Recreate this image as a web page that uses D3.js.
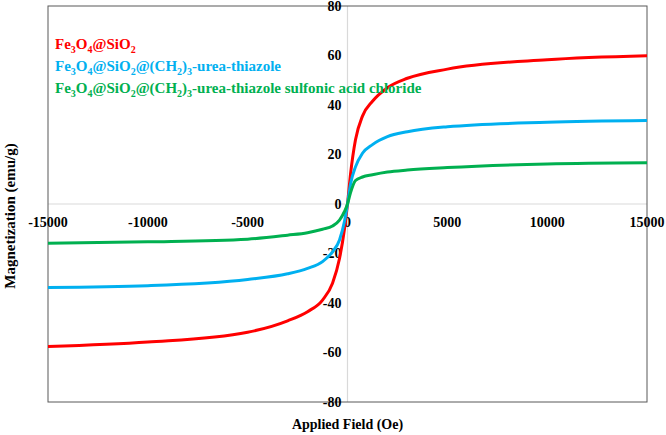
<!DOCTYPE html>
<meta charset="utf-8">
<head>
  <script src="https://d3js.org/d3.v7.min.js"></script>
  <style>
    body { margin: 0; background: #fff; }
  </style>
</head>
<div id="my_dataviz"></div>
<script>
  // data
  var field = [-15000, -10000, -5000, -3000, -2000, -1250, -750, -400, -150, 0,
    150, 400, 750, 1250, 2000, 3000, 5000, 10000, 15000];
  var magFe3O4SiO2 = [-57.6, -55.8, -51.8, -47.2, -43.5, -38.8, -32, -22, -10, 0,
    12, 26, 35.5, 41.5, 47, 50.8, 54.5, 58.3, 59.9];
  var magUreaThiazole = [-33.7, -33, -30.5, -28.2, -26, -23.3, -19.3, -14.5, -7, 0,
    8, 15, 20.5, 24, 27.2, 29.2, 31.2, 33, 33.7];
  var magSulfonicChloride = [-15.9, -15.3, -14.2, -12.6, -11.6, -10.2, -8.9, -6.5, -3, 0,
    4.5, 9.5, 10.9, 11.8, 12.9, 13.7, 14.7, 16.2, 16.7];
  var xTicks = [-15000, -10000, -5000, 0, 5000, 10000, 15000];
  var yTicks = [-80, -60, -40, -20, 0, 20, 40, 60, 80];

  var series = [
    { name: ["Fe", "3", "O", "4", "@SiO", "2"], values: magFe3O4SiO2, color: "#ff0000" },
    { name: ["Fe", "3", "O", "4", "@SiO", "2", "@(CH", "2", ")", "3", "-urea-thiazole"], values: magUreaThiazole, color: "#00b0f0" },
    { name: ["Fe", "3", "O", "4", "@SiO", "2", "@(CH", "2", ")", "3", "-urea-thiazole sulfonic acid chloride"], values: magSulfonicChloride, color: "#00b050" }
  ];

  var fontFam = "'Times New Roman', 'Liberation Serif', 'DejaVu Serif', serif";

  var margin = { top: 6, right: 19, bottom: 33, left: 48 },
    width = 666 - margin.left - margin.right,
    height = 435 - margin.top - margin.bottom;

  var svg = d3.select("#my_dataviz")
    .append("svg")
    .attr("width", 666)
    .attr("height", 435)
    .attr("font-family", fontFam)
    .attr("font-weight", "bold")
    .append("g")
    .attr("transform", "translate(" + margin.left + "," + margin.top + ")");

  var x = d3.scaleLinear().domain([-15000, 15000]).range([0, width]);
  var y = d3.scaleLinear().domain([-80, 80]).range([height, 0]);

  // zero lines
  svg.append("line")
    .attr("x1", 0).attr("x2", width)
    .attr("y1", y(0)).attr("y2", y(0))
    .attr("stroke", "#d9d9d9").attr("stroke-width", 1.2);
  svg.append("line")
    .attr("x1", x(0)).attr("x2", x(0))
    .attr("y1", 0).attr("y2", height)
    .attr("stroke", "#d9d9d9").attr("stroke-width", 1.2);

  // plot border
  svg.append("rect")
    .attr("width", width).attr("height", height)
    .attr("fill", "none")
    .attr("stroke", "#595959").attr("stroke-width", 1);

  // x tick labels under the zero line
  svg.selectAll(".xt")
    .data(xTicks)
    .enter().append("text")
    .attr("x", function (d) { return x(d); })
    .attr("y", y(0) + 23)
    .attr("text-anchor", "middle")
    .style("font-family", fontFam)
    .style("font-size", "14px")
    .text(function (d) { return d; });

  // y tick labels left of the zero line
  svg.selectAll(".yt")
    .data(yTicks)
    .enter().append("text")
    .attr("x", x(0) - 6)
    .attr("y", function (d) { return y(d); })
    .attr("dy", "0.35em")
    .attr("text-anchor", "end")
    .style("font-family", fontFam)
    .style("font-size", "14px")
    .text(function (d) { return d; });

  // curves
  var line = d3.line()
    .x(function (d, i) { return x(field[i]); })
    .y(function (d) { return y(d); })
    .curve(d3.curveMonotoneX);

  series.forEach(function (s) {
    svg.append("path")
      .datum(s.values)
      .attr("fill", "none")
      .attr("stroke", s.color)
      .attr("stroke-width", 3)
      .attr("d", line);
  });

  // legend text with subscripts
  series.forEach(function (s, i) {
    var t = svg.append("text")
      .attr("x", 7)
      .attr("y", 43 + i * 22)
      .attr("fill", s.color)
      .style("font-family", fontFam)
      .style("font-size", "15px");
    s.name.forEach(function (part, j) {
      var sub = j % 2 === 1 && /^\d$/.test(part);
      t.append("tspan")
        .attr("dy", sub ? 4 : (j > 0 ? -4 : 0))
        .style("font-size", sub ? "10px" : "15px")
        .text(part);
    });
  });

  // axis titles
  svg.append("text")
    .attr("x", x(0))
    .attr("y", height + 27)
    .attr("text-anchor", "middle")
    .style("font-family", fontFam)
    .style("font-size", "14px")
    .text("Applied Field (Oe)");

  svg.append("text")
    .attr("transform", "rotate(-90)")
    .attr("x", -(y(0) + 12))
    .attr("y", -33)
    .attr("text-anchor", "middle")
    .style("font-family", fontFam)
    .style("font-size", "15px")
    .text("Magnetization (emu/g)");
</script>
